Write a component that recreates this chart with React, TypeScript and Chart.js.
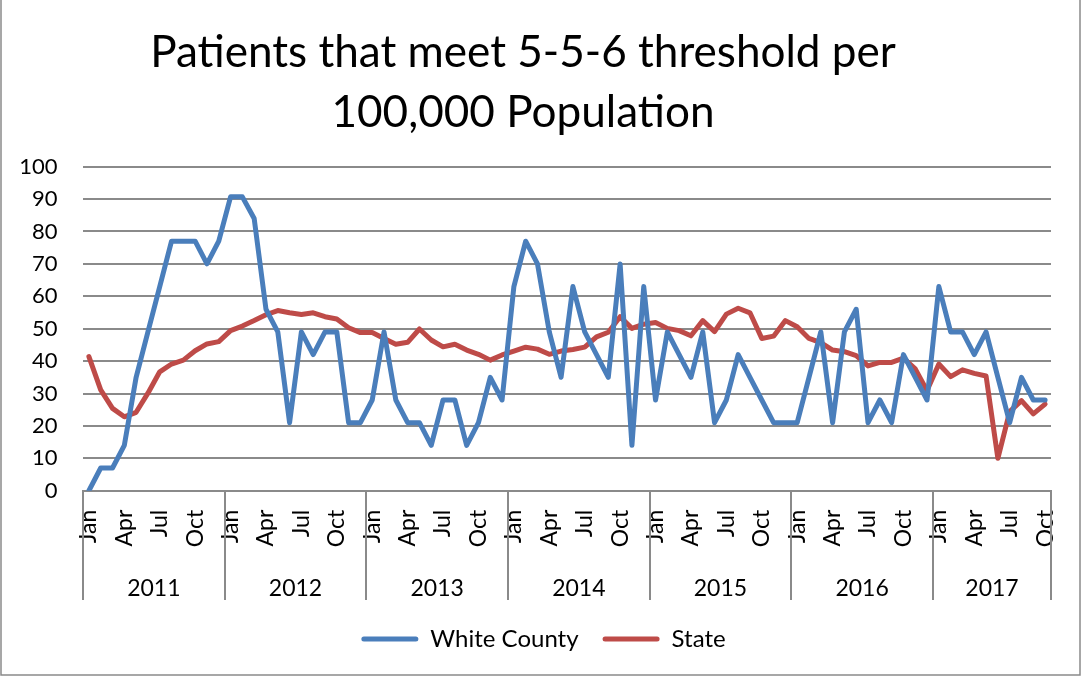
import React, { useEffect, useRef } from 'react';
import { Chart, registerables } from 'chart.js';

Chart.register(...registerables);

const FONT = 'Lato, "Open Sans", "Noto Sans", sans-serif';

const TITLE_LINES = ['Patients that meet 5-5-6 threshold per', '100,000 Population'];
const YEARS = ['2011', '2012', '2013', '2014', '2015', '2016', '2017'];
const MONTHS_PER_YEAR = [12, 12, 12, 12, 12, 12, 10];
const MONTH_NAMES = ['Jan', 'Feb', 'Mar', 'Apr', 'May', 'Jun', 'Jul', 'Aug', 'Sep', 'Oct', 'Nov', 'Dec'];
const SHOWN_MONTHS = ['Jan', 'Apr', 'Jul', 'Oct'];
const Y_MIN = 0;
const Y_MAX = 100;
const Y_STEP = 10;

const SERIES_NAMES = ['White County', 'State'];

const WHITE_COUNTY = [
  0, 7, 7, 14, 35, 49, 63, 77, 77, 77, 70, 77,
  90.7, 90.7, 84, 56, 49, 21, 49, 42, 49, 49, 21, 21,
  28, 49, 28, 21, 21, 14, 28, 28, 14, 21, 35, 28,
  63, 77, 70, 49, 35, 63, 49, 42, 35, 70, 14, 63,
  28, 49, 42, 35, 49, 21, 28, 42, 35, 28, 21, 21,
  21, 35, 49, 21, 49, 56, 21, 28, 21, 42, 35, 28,
  63, 49, 49, 42, 49, 35, 21, 35, 28, 28,
];

const STATE = [
  41.4, 31.1, 25.4, 22.8, 24.2, 30.1, 36.7, 39.1, 40.3, 43.2, 45.3, 46.0,
  49.4, 50.8, 52.5, 54.3, 55.6, 54.9, 54.4, 54.9, 53.7, 53.0, 50.3, 48.8,
  48.8, 47.0, 45.2, 45.8, 49.9, 46.5, 44.4, 45.2, 43.4, 42.1, 40.3, 41.9,
  43.1, 44.3, 43.7, 42.1, 43.1, 43.6, 44.3, 47.5, 48.9, 53.7, 50.1, 51.4,
  51.9, 50.1, 49.4, 47.8, 52.5, 49.1, 54.5, 56.3, 54.9, 47.0, 47.7, 52.5,
  50.6, 47.0, 45.7, 43.4, 42.9, 41.7, 38.5, 39.6, 39.6, 40.9, 37.6, 30.9,
  39.1, 35.2, 37.3, 36.2, 35.4, 10.0, 24.4, 27.8, 23.7, 26.7,
];

const BLUE = '#4a7ebb';
const RED = '#be4b48';
const GRID = '#8a8a8a';

const MONTH_LABELS: string[] = [];
YEARS.forEach((_, yi) => {
  for (let m = 0; m < MONTHS_PER_YEAR[yi]; m++) MONTH_LABELS.push(MONTH_NAMES[m]);
});

const decorPlugin = {
  id: 'decor',
  afterLayout(chart: any) {
    // Excel centres its legend slightly right of the canvas centre
    const lg = chart.legend;
    if (lg) {
      lg.left += 17;
      lg.right += 17;
    }
  },
  beforeDraw(chart: any) {
    const ctx = chart.ctx;
    ctx.save();
    ctx.fillStyle = '#ffffff';
    ctx.fillRect(0, 0, chart.width, chart.height);
    ctx.restore();
  },
  afterDraw(chart: any) {
    const ctx = chart.ctx;
    const x = chart.scales.x;
    const area = chart.chartArea;
    ctx.save();

    // Title
    let size = 48;
    ctx.font = `${size}px ${FONT}`;
    const w0 = ctx.measureText(TITLE_LINES[0]).width;
    size = (size * 746) / w0;
    ctx.font = `${size}px ${FONT}`;
    ctx.fillStyle = '#000';
    ctx.textAlign = 'center';
    ctx.textBaseline = 'alphabetic';
    ctx.fillText(TITLE_LINES[0], 523, 67);
    ctx.fillText(TITLE_LINES[1], 523, 127);

    // Year group separators and labels
    const step = x.getPixelForValue(1) - x.getPixelForValue(0);
    ctx.strokeStyle = GRID;
    ctx.lineWidth = 2;
    ctx.font = `23px ${FONT}`;
    ctx.textAlign = 'center';
    ctx.textBaseline = 'middle';
    let start = 0;
    YEARS.forEach((yr, yi) => {
      const end = start + MONTHS_PER_YEAR[yi] - 1;
      const left = x.getPixelForValue(start) - step / 2;
      const right = x.getPixelForValue(end) + step / 2;
      ctx.beginPath();
      ctx.moveTo(Math.round(left), area.bottom);
      ctx.lineTo(Math.round(left), 600);
      ctx.stroke();
      if (yi === YEARS.length - 1) {
        ctx.beginPath();
        ctx.moveTo(Math.round(right), area.bottom);
        ctx.lineTo(Math.round(right), 600);
        ctx.stroke();
      }
      ctx.fillText(yr, (left + right) / 2, 589);
      start = end + 1;
    });

    // Chart border
    ctx.lineWidth = 1.5;
    ctx.strokeStyle = GRID;
    ctx.beginPath();
    ctx.moveTo(1, 0);
    ctx.lineTo(1, 675);
    ctx.lineTo(1080, 675);
    ctx.lineTo(1080, 0);
    ctx.stroke();
    ctx.restore();
  },
};

export default function App() {
  const ref = useRef<HTMLCanvasElement | null>(null);

  useEffect(() => {
    if (!ref.current) return;
    const chart = new Chart(ref.current, {
      type: 'line',
      data: {
        labels: MONTH_LABELS,
        datasets: [
          {
            label: SERIES_NAMES[0],
            data: WHITE_COUNTY,
            borderColor: BLUE,
            backgroundColor: BLUE,
            borderWidth: 5,
            pointRadius: 0,
            tension: 0,
            fill: false,
            borderJoinStyle: 'round',
            borderCapStyle: 'round',
          },
          {
            label: SERIES_NAMES[1],
            data: STATE,
            borderColor: RED,
            backgroundColor: RED,
            borderWidth: 5,
            pointRadius: 0,
            tension: 0,
            fill: false,
            borderJoinStyle: 'round',
            borderCapStyle: 'round',
          },
        ],
      },
      options: {
        responsive: false,
        animation: false,
        events: [],
        layout: { padding: { left: 2, right: 31, top: 166.7, bottom: 15 } },
        scales: {
          x: {
            type: 'category',
            offset: true,
            grid: { display: false, drawTicks: false },
            border: { display: true, color: GRID, width: 2 },
            ticks: {
              autoSkip: false,
              minRotation: 90,
              maxRotation: 90,
              padding: 19,
              color: '#000',
              font: { family: FONT, size: 23 },
              callback: (_v: any, i: number) =>
                SHOWN_MONTHS.includes(MONTH_LABELS[i]) ? MONTH_LABELS[i] : '',
            },
            afterFit: (s: any) => {
              s.height = 112.3;
              s.paddingLeft = 0;
              s.paddingRight = 0;
            },
          },
          y: {
            min: Y_MIN,
            max: Y_MAX,
            grid: { color: GRID, lineWidth: 2, drawTicks: false },
            border: { display: false },
            ticks: {
              stepSize: Y_STEP,
              padding: 25.5,
              color: '#000',
              font: { family: FONT, size: 22 },
            },
            afterFit: (s: any) => {
              s.width = 81;
            },
          },
        },
        plugins: {
          title: { display: false },
          tooltip: { enabled: false },
          legend: {
            position: 'bottom',
            labels: {
              color: '#000',
              font: { family: FONT, size: 24 },
              boxWidth: 57,
              boxHeight: 5,
              padding: 24,
              generateLabels: (c: any) =>
                c.data.datasets.map((ds: any, i: number) => ({
                  text: ds.label,
                  fillStyle: ds.borderColor,
                  strokeStyle: ds.borderColor,
                  lineWidth: 0,
                  borderRadius: 2.5,
                  hidden: false,
                  datasetIndex: i,
                  fontColor: '#000',
                })),
            },
          },
        },
      },
      plugins: [decorPlugin],
    } as any);
    return () => chart.destroy();
  }, []);

  return (
    <div style={{ position: 'absolute', left: 0, top: 0, width: 1082, height: 676 }}>
      <canvas ref={ref} width={1082} height={676} style={{ display: 'block' }} />
    </div>
  );
}
